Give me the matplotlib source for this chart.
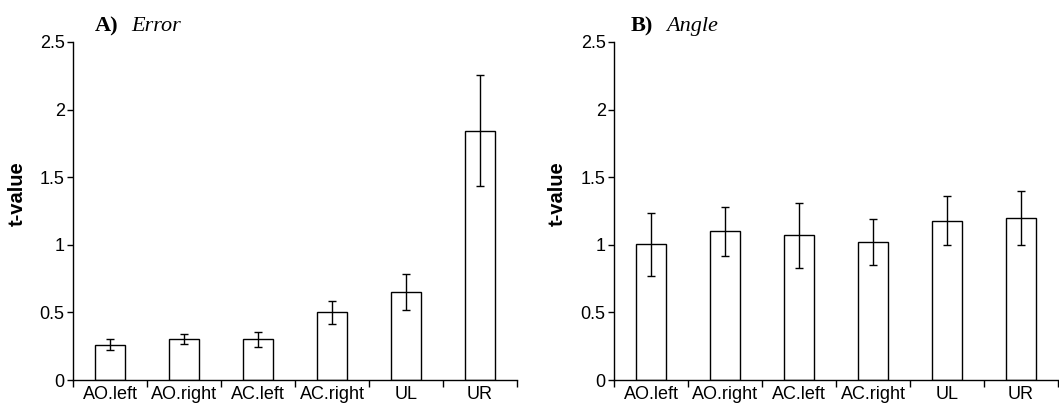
import numpy as np
import matplotlib
matplotlib.use("Agg")
import matplotlib.pyplot as plt

# data
categories = ["AO.left", "AO.right", "AC.left", "AC.right", "UL", "UR"]
error_vals = [0.26, 0.30, 0.30, 0.50, 0.65, 1.845]
error_err = [0.04, 0.037, 0.053, 0.083, 0.135, 0.41]
angle_vals = [1.005, 1.10, 1.07, 1.02, 1.178, 1.20]
angle_err = [0.233, 0.183, 0.24, 0.17, 0.18, 0.20]
yticks = [0, 0.5, 1, 1.5, 2, 2.5]
ytick_labels = ["0", "0.5", "1", "1.5", "2", "2.5"]

plt.rcParams['font.family'] = ['Liberation Sans', 'DejaVu Sans']

fig = plt.figure(figsize=(10.59, 4.11), dpi=100)
ax1 = fig.add_axes([73 / 1059, 1 - 380 / 411, 444 / 1059, 338 / 411])
ax2 = fig.add_axes([614 / 1059, 1 - 380 / 411, 444 / 1059, 338 / 411])


def draw_panel(ax, vals, errs, label_x):
    x = np.arange(len(categories))
    ax.bar(x, vals, width=0.4, color="white", edgecolor="black", linewidth=1.0, zorder=2)
    ax.errorbar(x, vals, yerr=errs, fmt="none", ecolor="black", elinewidth=1.0,
                capsize=3, capthick=1.0, zorder=3)
    ax.set_xlim(-0.5, len(categories) - 0.5)
    ax.set_ylim(0, 2.5)
    ax.set_yticks(yticks)
    ax.set_yticklabels(ytick_labels)
    # ticks at category boundaries, labels centred under bars
    ax.set_xticks(np.arange(len(categories) + 1) - 0.5)
    ax.set_xticklabels([])
    ax.set_xticks(x, minor=True)
    ax.set_xticklabels(categories, minor=True)
    ax.tick_params(axis="x", which="major", direction="out", length=5, width=1.0)
    ax.tick_params(axis="x", which="minor", length=0, labelsize=13, pad=4)
    ax.tick_params(axis="y", direction="out", length=4, width=1.0, labelsize=13, pad=2)
    for s in ["top", "right"]:
        ax.spines[s].set_visible(False)
    for s in ["left", "bottom"]:
        ax.spines[s].set_linewidth(1.0)
    ax.set_ylabel("t-value", fontsize=14.5, fontweight="bold")
    ax.yaxis.set_label_coords(label_x, 0.55)


draw_panel(ax1, error_vals, error_err, -0.104)
draw_panel(ax2, angle_vals, angle_err, -0.106)

# panel titles
ty = 1 - 31 / 411
fig.text(95 / 1059, ty, "A)", family="Liberation Serif", fontweight="bold", fontsize=16, va="baseline")
fig.text(131 / 1059, ty, "Error", family="Liberation Serif", style="italic", fontsize=16, va="baseline")
fig.text(631 / 1059, ty, "B)", family="Liberation Serif", fontweight="bold", fontsize=16, va="baseline")
fig.text(666 / 1059, ty, "Angle", family="Liberation Serif", style="italic", fontsize=16, va="baseline")

fig.savefig("out.png", dpi=100)
